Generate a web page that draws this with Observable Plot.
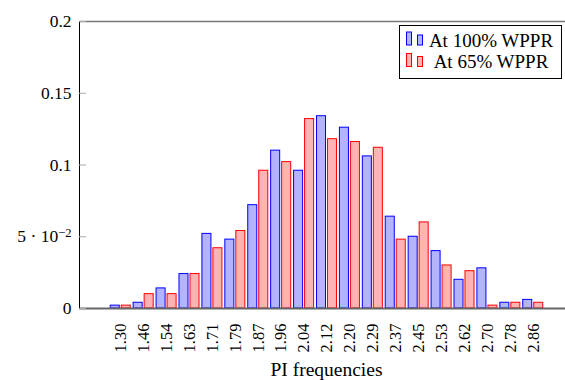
<!DOCTYPE html>
<html>
<head>
<meta charset="utf-8">
<script src="https://cdn.jsdelivr.net/npm/d3@7"></script>
<script src="https://cdn.jsdelivr.net/npm/@observablehq/plot@0.6"></script>
<style>
  html, body { margin: 0; padding: 0; background: #fff; overflow: hidden; width: 565px; height: 380px; }
  #wrap { position: relative; width: 565px; height: 380px; overflow: hidden; font-family: "Liberation Serif", serif; }
  #wrap > svg:first-child { max-width: none !important; width: 575px !important; height: 380px !important; position: absolute; left: 0; top: 0; }
  #xtitle { position: absolute; left: 79px; width: 495px; top: 360px; text-align: center; font-size: 19.5px; line-height: 20px; }
  #legend { position: absolute; left: 399px; top: 25px; }
</style>
</head>
<body>
<div id="wrap"></div>
<script>
// ---- data ----
const categories = ["1.30","1.46","1.54","1.63","1.71","1.79","1.87","1.96","2.04","2.12",
                    "2.20","2.29","2.37","2.45","2.53","2.62","2.70","2.78","2.86"];
const seriesNames = ["At 100% WPPR", "At 65% WPPR"];
const wppr100 = [0.002,0.004,0.014,0.024,0.052,0.048,0.072,0.110,0.096,0.134,
                 0.126,0.106,0.064,0.050,0.040,0.020,0.028,0.004,0.006];
const wppr65  = [0.002,0.010,0.010,0.024,0.042,0.054,0.096,0.102,0.132,0.118,
                 0.116,0.112,0.048,0.060,0.030,0.026,0.002,0.004,0.004];
const yTicks = [0, 0.05, 0.1, 0.15, 0.2];
const yTickLabels = ["0", "5·10^-2", "0.1", "0.15", "0.2"];
const xTitle = "PI frequencies";

const blue = {fill: "#b3b3ff", stroke: "#0000ff"};
const red = {fill: "#ffb3b3", stroke: "#ff0000"};

const rows100 = categories.map((c, i) => ({cat: c, v: wppr100[i]}));
const rows65 = categories.map((c, i) => ({cat: c, v: wppr65[i]}));

const chart = Plot.plot({
  width: 575,
  height: 380,
  marginLeft: 79,
  marginRight: 1,
  marginTop: 21,
  marginBottom: 72,
  style: {fontFamily: "'Liberation Serif', serif", fontSize: "16px", background: "white", color: "black", overflow: "visible", maxWidth: "none"},
  x: {domain: categories, paddingInner: 0.126, paddingOuter: 1.363, round: false, label: null},
  y: {domain: [0, 0.2], label: null},
  marks: [
    Plot.barY(rows100, {x: "cat", y: "v", fill: blue.fill, stroke: blue.stroke, strokeWidth: 1, insetRight: 11}),
    Plot.barY(rows65, {x: "cat", y: "v", fill: red.fill, stroke: red.stroke, strokeWidth: 1, insetLeft: 11}),
    Plot.ruleY([0], {stroke: "#666", strokeWidth: 2}),
    Plot.ruleY([0.2], {stroke: "#777", strokeWidth: 1.5}),
    Plot.frame({anchor: "left", stroke: "black"}),
    Plot.axisY(yTicks, {tickSize: -7, stroke: "#aaa", tickFormat: () => ""}),
    Plot.axisY(yTicks, {tickSize: 0, tickPadding: 8, fontSize: 17.5,
                        tickFormat: d => yTickLabels[yTicks.indexOf(d)]}),
    Plot.axisX({tickSize: 0, tickPadding: 15, tickRotate: -90, fontSize: 16.5, label: null})
  ]
});

const wrap = document.getElementById("wrap");
wrap.appendChild(chart);

// superscript for 5·10^-2
d3.select(chart).selectAll("text").each(function() {
  if (this.textContent === "5·10^-2") {
    const t = d3.select(this);
    t.text("");
    t.append("tspan").text("5 · 10");
    t.append("tspan").attr("dy", "-0.45em").attr("font-size", "12.5px").text("−2");
  }
});

// x title
const xt = document.createElement("div");
xt.id = "xtitle";
xt.textContent = xTitle;
wrap.appendChild(xt);

// legend
const lg = d3.select(wrap).append("svg").attr("id", "legend")
  .attr("width", 164).attr("height", 55);
lg.append("rect").attr("x", 0.5).attr("y", 0.5).attr("width", 162).attr("height", 53)
  .attr("fill", "white").attr("stroke", "black");
[blue, red].forEach((c, i) => {
  const g = lg.append("g").attr("transform", `translate(0,${i * 21.5})`);
  g.append("rect").attr("x", 7.5).attr("y", 7).attr("width", 5).attr("height", 13)
    .attr("fill", c.fill).attr("stroke", c.stroke);
  g.append("rect").attr("x", 18.5).attr("y", 10).attr("width", 5).attr("height", 10)
    .attr("fill", c.fill).attr("stroke", c.stroke);
  g.append("text").attr("x", 92).attr("y", 21.5).attr("text-anchor", "middle")
    .attr("font-family", "'Liberation Serif', serif").attr("font-size", 19)
    .text(seriesNames[i]);
});
</script>
</body>
</html>
